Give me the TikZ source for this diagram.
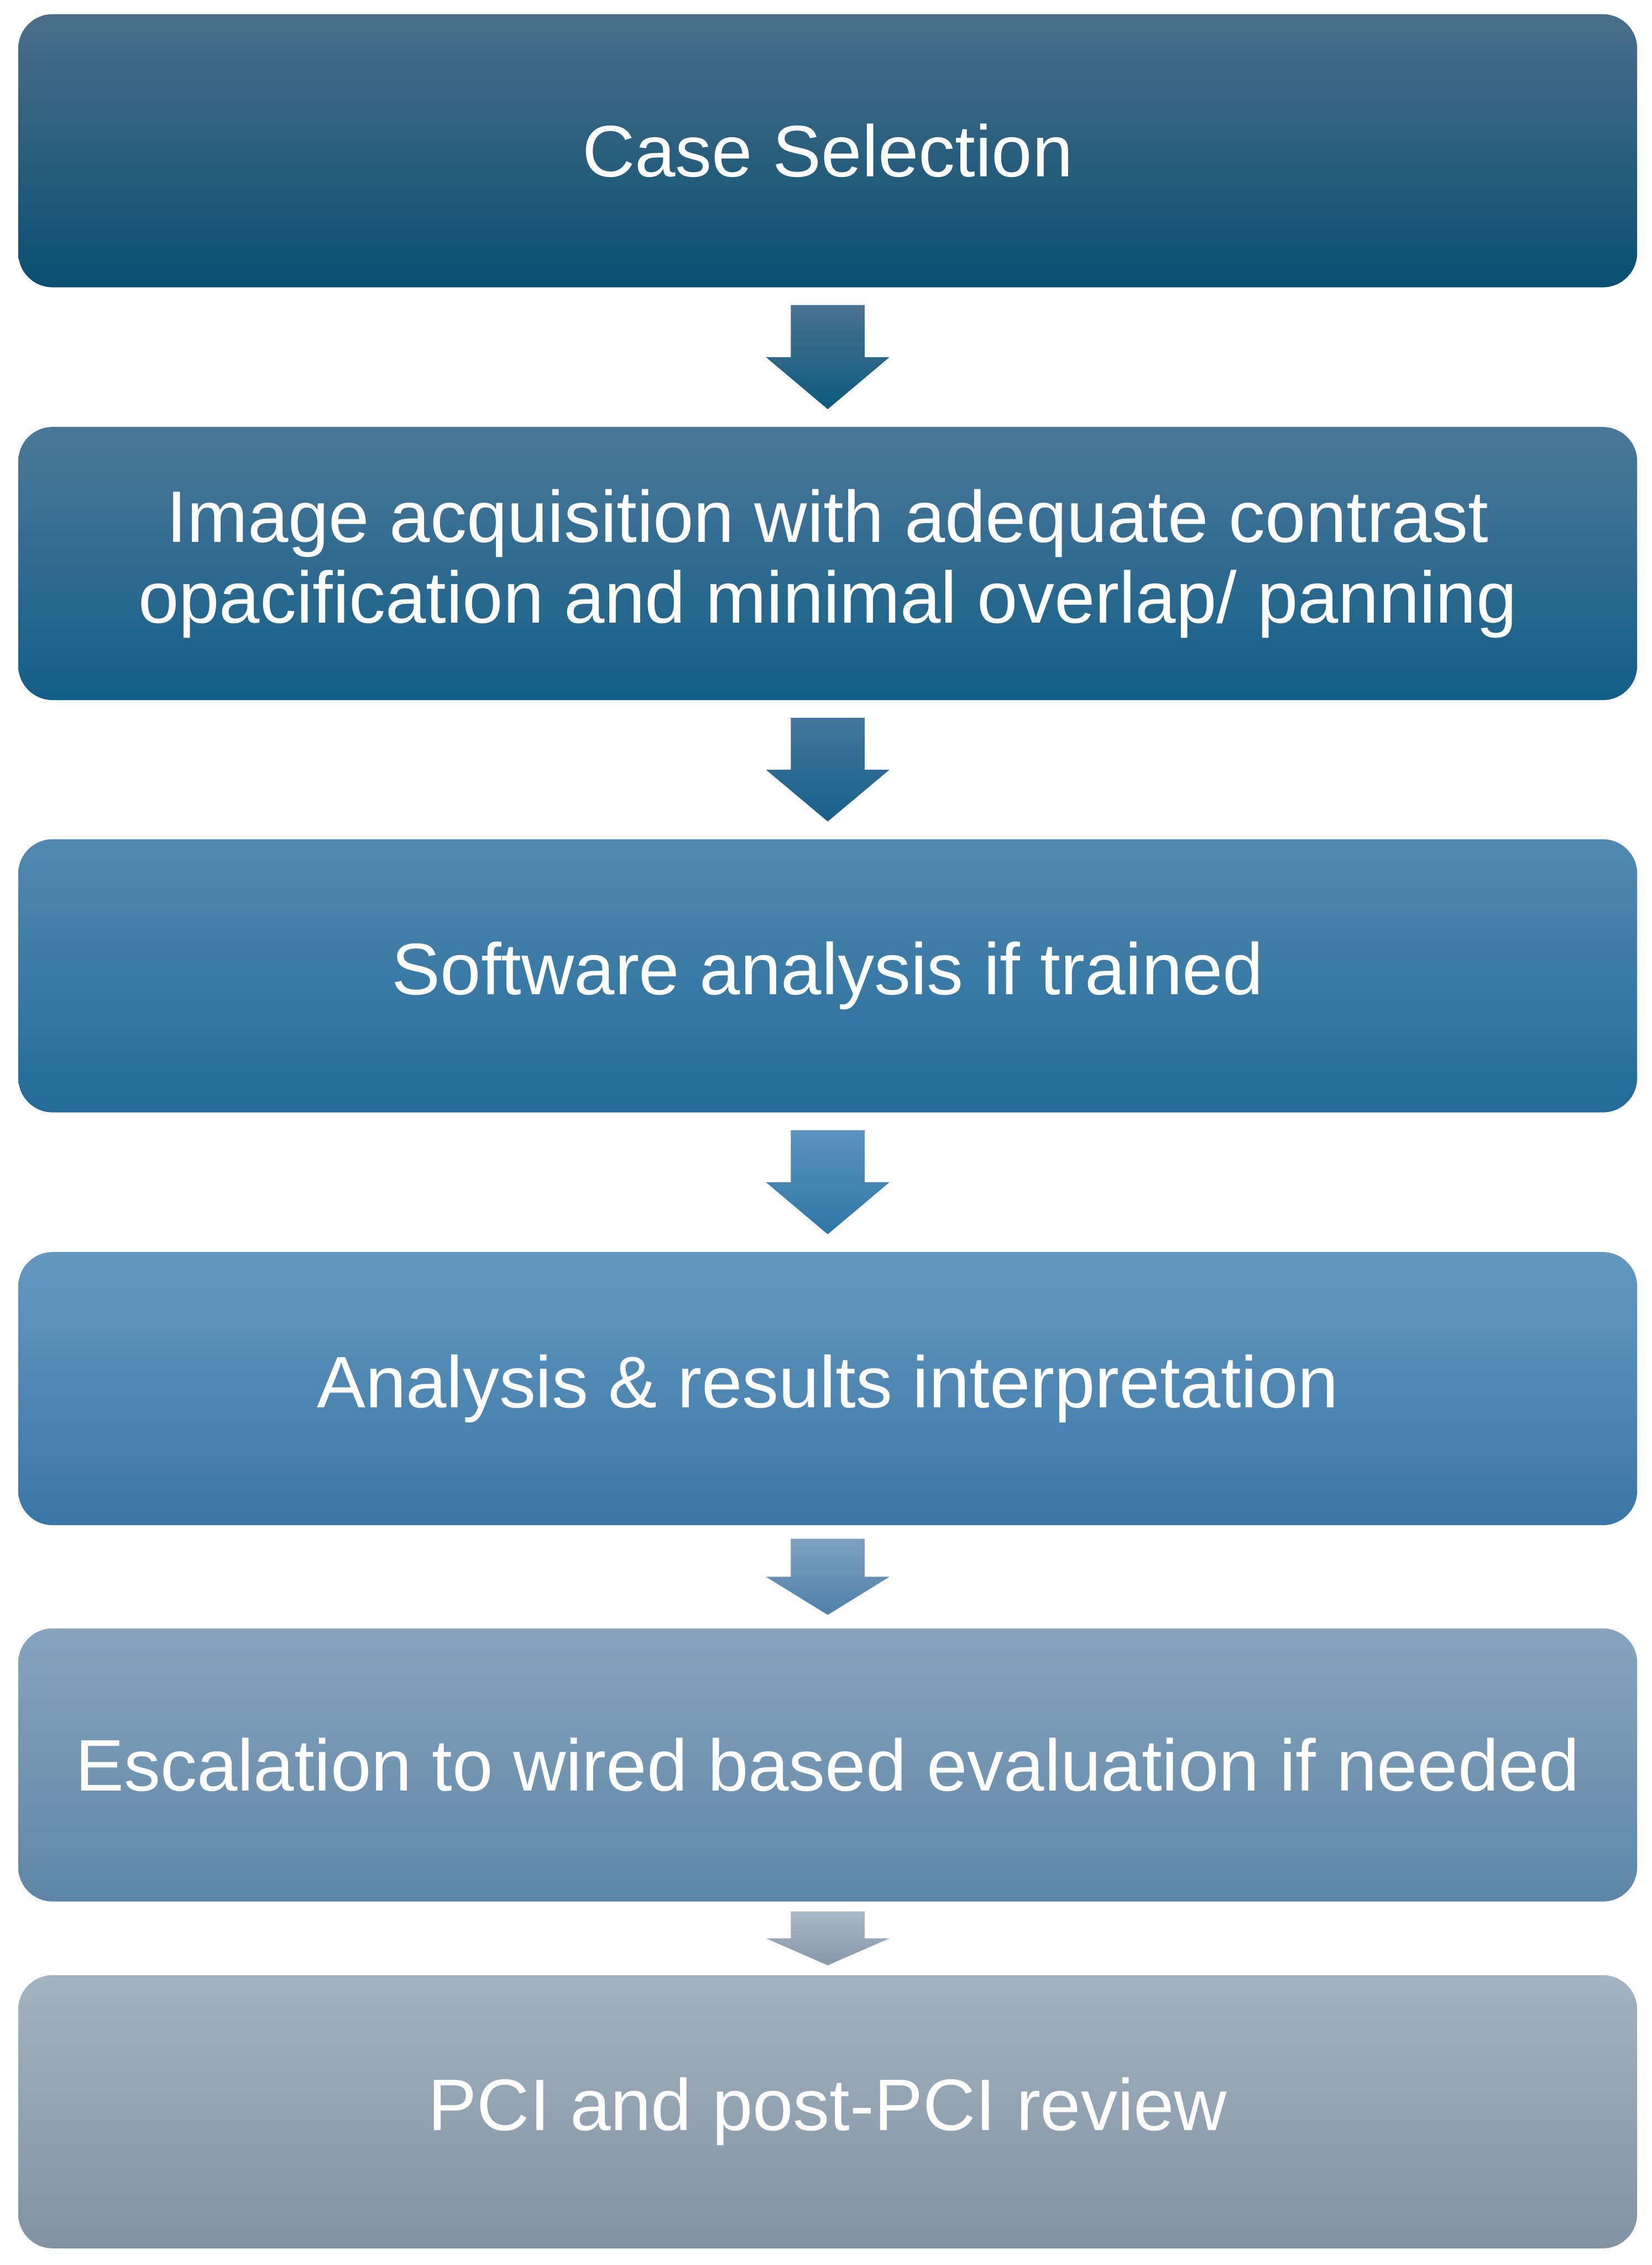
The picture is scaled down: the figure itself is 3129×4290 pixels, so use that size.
\documentclass[tikz,border=0pt]{standalone}
\usepackage{fontspec}
\setmainfont{Liberation Sans}
\usetikzlibrary{calc,positioning}

\definecolor{sOneTop}{HTML}{4B6E89}
\definecolor{sOneBot}{HTML}{094F72}
\definecolor{sTwoTop}{HTML}{4B7898}
\definecolor{sTwoBot}{HTML}{145E87}
\definecolor{sThreeTop}{HTML}{5289B0}
\definecolor{sThreeBot}{HTML}{236B98}
\definecolor{sFourTop}{HTML}{6598BF}
\definecolor{sFourBot}{HTML}{3A77A6}
\definecolor{sFiveTop}{HTML}{86A4BE}
\definecolor{sFiveBot}{HTML}{5F86A6}
\definecolor{sSixTop}{HTML}{A3B3C1}
\definecolor{sSixBot}{HTML}{8192A3}
\definecolor{aOneTop}{HTML}{4A7190}
\definecolor{aOneBot}{HTML}{0C5A7E}
\definecolor{aTwoTop}{HTML}{43769B}
\definecolor{aTwoBot}{HTML}{17608B}
\definecolor{aThreeTop}{HTML}{5A93BD}
\definecolor{aThreeBot}{HTML}{2F76A6}
\definecolor{aFourTop}{HTML}{7EA0BE}
\definecolor{aFourBot}{HTML}{4E80AA}
\definecolor{aFiveTop}{HTML}{A9B8C5}
\definecolor{aFiveBot}{HTML}{8798AB}

\begin{document}
\begin{tikzpicture}[
    x=0.01cm, y=0.01cm,
    stage/.style={rounded corners=0.65cm, minimum width=30.65cm, minimum height=5.17cm,
        inner sep=0pt, align=center, text=white},
    every node/.style={font=\fontsize{39.3}{43.5}\selectfont}
]
\useasboundingbox (0,0) rectangle (3129,-4290);
\node[stage, top color=sOneTop, bottom color=sOneBot] (select) at (1568,-285.5) {Case Selection};
\node[stage, top color=sTwoTop, bottom color=sTwoBot, below=2.63cm of select] (acquire) {Image acquisition with adequate contrast\\opacification and minimal overlap/ panning};
\node[stage, top color=sThreeTop, bottom color=sThreeBot, below=2.62cm of acquire] (software) {Software analysis if trained};
\node[stage, top color=sFourTop, bottom color=sFourBot, below=2.63cm of software] (interpret) {Analysis \& results interpretation};
\node[stage, top color=sFiveTop, bottom color=sFiveBot, below=1.94cm of interpret] (escalate) {Escalation to wired based evaluation if needed};
\node[stage, top color=sSixTop, bottom color=sSixBot, below=1.38cm of escalate] (review) {PCI and post-PCI review};

\foreach \from/\to/\gap/\ctop/\cbot in {select/acquire/33/aOneTop/aOneBot,
    acquire/software/33/aTwoTop/aTwoBot, software/interpret/33/aThreeTop/aThreeBot,
    interpret/escalate/25/aFourTop/aFourBot, escalate/review/18/aFiveTop/aFiveBot}
  \shade[top color=\ctop, bottom color=\cbot]
    ($(\from.south)+(-70,-\gap)$) -- ($(\from.south)+(70,-\gap)$)
    -- ($(\from.south)!.5!(\to.north)+(70,0)$) -- ($(\from.south)!.5!(\to.north)+(117,0)$)
    -- ($(\to.north)+(0,\gap)$)
    -- ($(\from.south)!.5!(\to.north)+(-117,0)$) -- ($(\from.south)!.5!(\to.north)+(-70,0)$)
    -- cycle;
\end{tikzpicture}
\end{document}
